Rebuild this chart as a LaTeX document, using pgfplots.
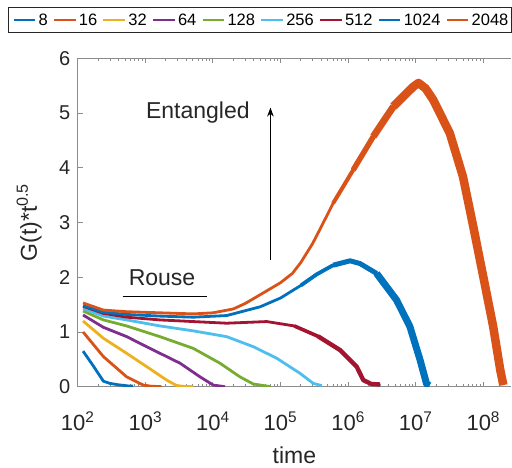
\documentclass[border=0pt]{standalone}
\usepackage{pgfplots}
\pgfplotsset{compat=1.18}
\usetikzlibrary{arrows.meta}
\usepackage{fontspec}
\setmainfont{Liberation Sans}
\definecolor{c1}{rgb}{0,0.447,0.741}
\definecolor{c2}{rgb}{0.85,0.325,0.098}
\definecolor{c3}{rgb}{0.929,0.694,0.125}
\definecolor{c4}{rgb}{0.494,0.184,0.556}
\definecolor{c5}{rgb}{0.466,0.674,0.188}
\definecolor{c6}{rgb}{0.301,0.745,0.933}
\definecolor{c7}{rgb}{0.635,0.078,0.184}
\begin{document}
\begin{tikzpicture}
\begin{axis}[
  scale only axis, width=433.3bp, height=328.4bp,
  at={(0,0)}, anchor=south west,
  xmode=log, xmin=100, xmax=2.57e8, ymin=0, ymax=6,
  axis x line*=box, axis y line*=left,
  axis line style={draw=black!45, line width=0.8bp},
  every tick/.style={draw=black!45, line width=0.8bp},
  tick align=inside,
  major tick length=5bp, minor tick length=3bp,
  xtick={1e2,1e3,1e4,1e5,1e6,1e7,1e8},
  xticklabels={10\textsuperscript{2},10\textsuperscript{3},10\textsuperscript{4},10\textsuperscript{5},10\textsuperscript{6},10\textsuperscript{7},10\textsuperscript{8}},
  ytick={0,1,2,3,4,5,6},
  yticklabels={0,1,2,3,4,5,6},
  x tick label style={font=\fontsize{22bp}{26bp}\selectfont, text=black!85, yshift=-22bp},
  y tick label style={font=\fontsize{20bp}{24bp}\selectfont, text=black!85, xshift=-4bp},
  xlabel={time},
  ylabel={G(t)*t\textsuperscript{0.5}},
  xlabel style={font=\fontsize{23bp}{27bp}\selectfont, text=black!85, at={(axis description cs:0.5,-0.208)}, anchor=center},
  ylabel style={font=\fontsize{23bp}{27bp}\selectfont, text=black!85, at={(axis description cs:-0.112,0.5)}, anchor=center},
  legend columns=9,
  legend image code/.code={\draw[#1] (0bp,0bp) -- (21.6bp,0bp);},
  legend style={at={(axis description cs:-0.1602,1.1571)}, anchor=north west,
    draw=black!85, line width=0.9bp, fill=white,
    font=\fontsize{16.5bp}{19bp}\selectfont,
    inner xsep=3.4bp, inner ysep=6.9bp,
    nodes={inner sep=0pt, text height=11.8bp, text depth=0bp},
    /tikz/every odd column/.append style={column sep=2bp},
    /tikz/every even column/.append style={column sep=4.8bp}},
  every axis plot/.append style={line width=2.8bp, line join=round},
]
\addplot[c1] coordinates {(120,0.65) (170,0.38) (240,0.10) (300,0.06) (400,0.035) (550,0.015) (660,0.01)};
\addlegendentry{8}
\addplot[c2] coordinates {(120,1.0) (240,0.55) (530,0.18) (933,0.03) (1200,0.01) (1740,0.0)};
\addlegendentry{16}
\addplot[c3] coordinates {(120,1.20) (240,0.885) (530,0.61) (1050,0.366) (2075,0.12) (2920,0.02) (3800,0.005) (5130,0.0)};
\addlegendentry{32}
\addplot[c4] coordinates {(120,1.31) (240,1.085) (530,0.915) (1312,0.67) (3260,0.43) (6450,0.18) (10100,0.03) (15100,0.0)};
\addlegendentry{64}
\addplot[c5] coordinates {(120,1.384) (240,1.22) (530,1.11) (1650,0.914) (5130,0.70) (12700,0.43) (25100,0.18) (39500,0.05) (71600,0.0)};
\addlegendentry{128}
\addplot[c6] coordinates {(120,1.43) (240,1.29) (530,1.22) (1650,1.11) (5130,1.02) (16000,0.914) (39800,0.73) (87900,0.52) (194000,0.245) (306000,0.06) (408000,0.02)};
\addlegendentry{256}
\addplot[c7] coordinates {(120,1.47) (240,1.34) (530,1.27) (1650,1.22) (5130,1.19) (16000,1.16) (62500,1.19) (160000,1.11) (360000,0.92) (760000,0.67) (1.34e6,0.366) (1.68e6,0.12) (2.2e6,0.05) (2.96e6,0.04)};
\addlegendentry{512}
\addplot[c7, line width=3.6bp, forget plot] coordinates {(160000,1.11) (360000,0.92)};
\addplot[c7, line width=4.4bp, forget plot] coordinates {(360000,0.92) (760000,0.67) (1.34e6,0.366) (1.68e6,0.12) (2.2e6,0.05) (2.96e6,0.04)};
\addplot[c1] coordinates {(120,1.48) (240,1.36) (530,1.32) (1650,1.29) (5130,1.27) (16000,1.30) (50000,1.46) (100000,1.62) (200000,1.85) (340000,2.05) (600000,2.22) (1.07e6,2.30) (1.5e6,2.25) (2.64e6,2.07) (5.2e6,1.585) (8.2e6,1.10) (1.16e7,0.49) (1.45e7,0.05) (1.6e7,0.02)};
\addlegendentry{1024}
\addplot[c1, line width=3.8bp, forget plot] coordinates {(200000,1.85) (340000,2.05) (600000,2.22)};
\addplot[c1, line width=5bp, forget plot] coordinates {(600000,2.22) (1.07e6,2.30) (1.5e6,2.25) (2.64e6,2.07)};
\addplot[c1, line width=7bp, forget plot] coordinates {(2.64e6,2.07) (5.2e6,1.585) (8.2e6,1.10) (1.16e7,0.49) (1.45e7,0.05) (1.6e7,0.02)};
\addplot[c2] coordinates {(120,1.53) (240,1.40) (530,1.37) (1650,1.35) (5130,1.33) (10000,1.35) (20000,1.42) (30000,1.52) (50000,1.68) (100000,1.90) (150000,2.07) (200000,2.27) (300000,2.62) (400000,2.92) (600000,3.35) (1.19e6,3.96) (2.36e6,4.57) (4.68e6,5.12) (9.2e6,5.48) (1.1e7,5.55) (1.4e7,5.45) (1.82e7,5.24) (3.2e7,4.63) (5.0e7,3.84) (7.1e7,2.93) (1e8,2.01) (1.4e8,1.10) (1.78e8,0.31) (1.98e8,0.03)};
\addlegendentry{2048}
\addplot[c2, line width=4bp, forget plot] coordinates {(600000,3.35) (1.19e6,3.96)};
\addplot[c2, line width=5.5bp, forget plot] coordinates {(1.19e6,3.96) (2.36e6,4.57)};
\addplot[c2, line width=7bp, forget plot] coordinates {(2.36e6,4.57) (4.68e6,5.12)};
\addplot[c2, line width=8.5bp, forget plot] coordinates {(4.68e6,5.12) (9.2e6,5.48) (1.1e7,5.55) (1.4e7,5.45) (1.82e7,5.24) (3.2e7,4.63) (5.0e7,3.84) (7.1e7,2.93) (1e8,2.01) (1.4e8,1.10) (1.78e8,0.31) (1.98e8,0.03)};
\draw[black, line width=1.5bp] (axis cs:463,1.645) -- (axis cs:8090,1.645);
\node[font=\fontsize{23bp}{27bp}\selectfont, text=black!85] at (axis cs:1766,2.0) {Rouse};
\node[font=\fontsize{23bp}{27bp}\selectfont, text=black!85] at (axis cs:6000,5.0) {Entangled};
\draw[black, line width=1.5bp, -{Stealth[length=9bp,width=6.5bp]}] (axis cs:7.1e4,2.31) -- (axis cs:7.1e4,5.1);
\end{axis}
\pgfresetboundingbox
\path[use as bounding box] (-77.7bp,-81.3bp) rectangle (434.3bp,386.7bp);
\end{tikzpicture}
\end{document}
